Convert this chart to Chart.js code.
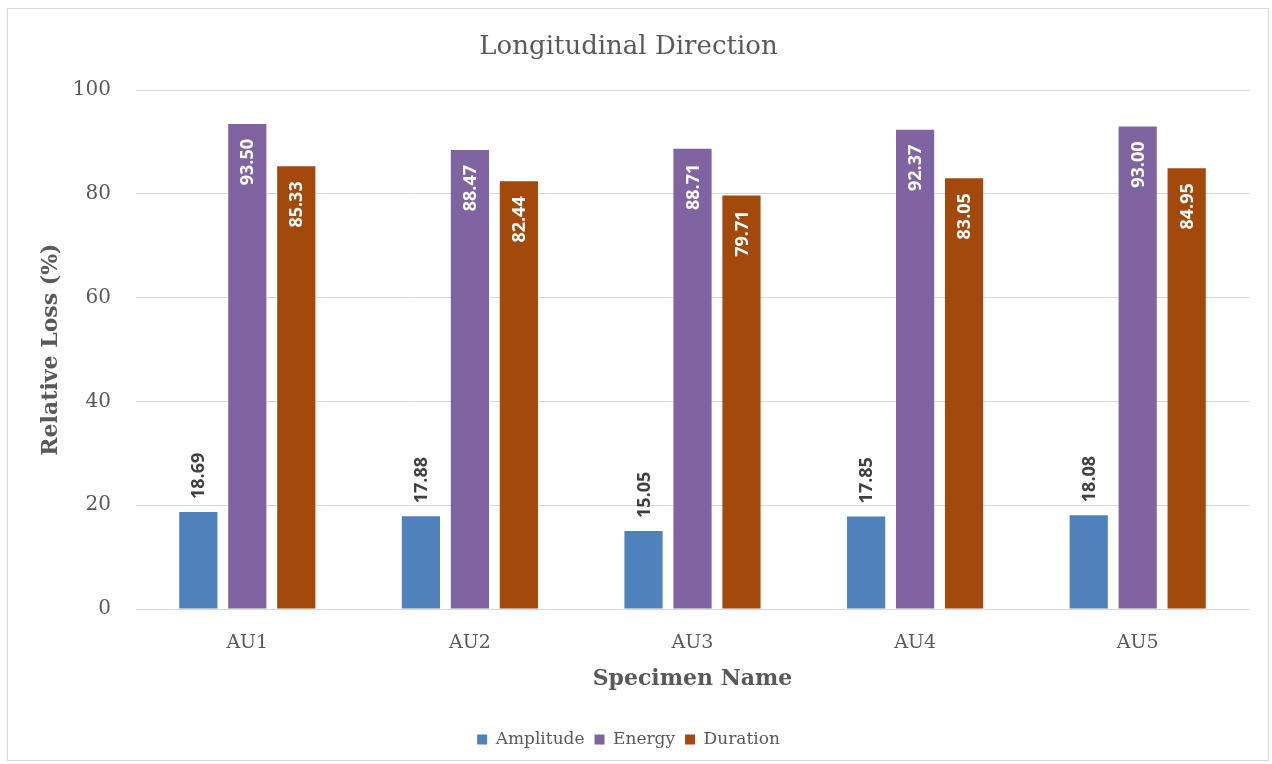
<!DOCTYPE html>
<html>
<head>
<meta charset="utf-8">
<script src="https://cdn.jsdelivr.net/npm/chart.js@4"></script>
<style>
  html, body { margin: 0; padding: 0; background: #fff; }
  #wrap { position: absolute; left: 7px; top: 8px; width: 1262px; height: 753px; border: 1px solid #d9d9d9; box-sizing: border-box; }
  canvas { display: block; }
</style>
</head>
<body>
<div id="wrap"><canvas id="c"></canvas></div>
<script>
const categories = ["AU1", "AU2", "AU3", "AU4", "AU5"];
const amplitude = [18.69, 17.88, 15.05, 17.85, 18.08];
const energy = [93.50, 88.47, 88.71, 92.37, 93.00];
const duration = [85.33, 82.44, 79.71, 83.05, 84.95];
const yTicks = [0, 20, 40, 60, 80, 100];

const labelPlugin = {
  id: 'barLabels',
  afterDatasetsDraw(chart) {
    const ctx = chart.ctx;
    chart.data.datasets.forEach((ds, di) => {
      const meta = chart.getDatasetMeta(di);
      meta.data.forEach((bar, i) => {
        const txt = ds.data[i].toFixed(2);
        ctx.save();
        ctx.font = 'bold 18px "Open Sans", "Liberation Sans", sans-serif';
        ctx.textBaseline = 'middle';
        if (ds.labelPos === 'outside') {
          ctx.translate(bar.x, bar.y - 13);
          ctx.rotate(-Math.PI / 2);
          ctx.textAlign = 'left';
          ctx.fillStyle = '#404040';
        } else {
          ctx.translate(bar.x, bar.y + 15);
          ctx.rotate(-Math.PI / 2);
          ctx.textAlign = 'right';
          ctx.fillStyle = '#ffffff';
        }
        ctx.fillText(txt, 0, 1);
        ctx.restore();
      });
    });
  }
};

new Chart(document.getElementById('c'), {
  type: 'bar',
  data: {
    labels: categories,
    datasets: [
      { label: 'Amplitude', data: amplitude, backgroundColor: '#4f81bd', labelPos: 'outside' },
      { label: 'Energy', data: energy, backgroundColor: '#8064a2', labelPos: 'inside' },
      { label: 'Duration', data: duration, backgroundColor: '#a3490b', labelPos: 'inside' }
    ]
  },
  options: {
    responsive: true,
    maintainAspectRatio: false,
    animation: false,
    datasets: { bar: { categoryPercentage: 0.66, barPercentage: 0.78 } },
    layout: { padding: { left: 0, right: 19, top: 0, bottom: 2 } },
    plugins: {
      title: {
        display: true,
        text: 'Longitudinal Direction',
        color: '#595959',
        font: { family: '"DejaVu Serif", serif', size: 26, weight: 'normal' },
        padding: { top: 23, bottom: 27 }
      },
      legend: {
        position: 'bottom',
        labels: {
          color: '#595959',
          boxWidth: 10, boxHeight: 10,
          padding: 10,
          font: { family: '"DejaVu Serif", serif', size: 17 }
        }
      },
      tooltip: { enabled: false }
    },
    scales: {
      x: {
        grid: { display: false, drawTicks: false },
        border: { display: false },
        ticks: { color: '#595959', font: { family: '"DejaVu Serif", serif', size: 19 }, padding: 23 },
        title: { display: true, text: 'Specimen Name', color: '#595959', font: { family: '"DejaVu Serif", serif', size: 22, weight: 'bold' }, padding: { top: 0, bottom: 29 } },
        afterFit(axis) { axis.height = 112; }
      },
      y: {
        min: 0, max: 100,
        afterBuildTicks(axis) { axis.ticks = yTicks.map(v => ({ value: v })); },
        grid: { color: '#d9d9d9', drawTicks: false },
        border: { display: false },
        ticks: { color: '#595959', font: { family: '"DejaVu Serif", serif', size: 20 }, padding: 25 },
        title: { display: true, text: 'Relative Loss (%)', color: '#595959', font: { family: '"DejaVu Serif", serif', size: 22, weight: 'bold' }, padding: { top: 30, bottom: 0 } },
        afterFit(axis) { axis.width = 128; }
      }
    }
  },
  plugins: [labelPlugin]
});
</script>
</body>
</html>
